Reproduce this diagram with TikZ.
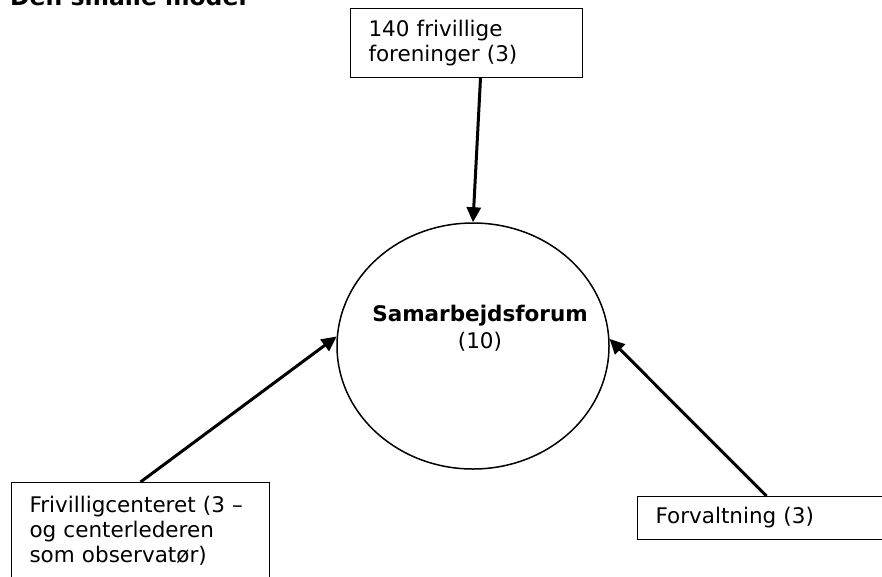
\documentclass[tikz,border=0pt]{standalone}
\usepackage{fontspec}
\setmainfont{DejaVu Sans}
\usetikzlibrary{arrows.meta,shapes.geometric}

\begin{document}
\begin{tikzpicture}[x=1pt,y=-1pt]
    \tikzset{box/.style = {shape=rectangle, draw, line width=1pt, align=left, font=\fontsize{21.5}{25}\selectfont, inner xsep=18pt}}
    \tikzset{forum/.style = {shape=ellipse, draw, line width=1.5pt, minimum width=272pt, minimum height=246pt}}
    \tikzset{edge/.style = {draw, line width=3pt, -{Triangle[length=15pt,width=14pt]}}}

    \useasboundingbox (0,0) rectangle (882,576);

    % title (cut off at the top)
    \node[anchor=base west, inner sep=0pt, font=\fontsize{23.5}{28}\selectfont\bfseries] (title) at (10,5) {Den smalle model};

    % vertices
    \node[box, anchor=north west, minimum width=232pt, minimum height=69pt, text width=196pt] (foreninger) at (350,8) {140 frivillige\\foreninger (3)};
    \node[forum] (samarbejde) at (473,346) {};
    \node[align=center, font=\fontsize{21.5}{27}\selectfont] (forumtekst) at ([shift={(7,-18)}]samarbejde.center) {\textbf{Samarbejdsforum}\\(10)};
    \node[box, anchor=north west, minimum width=258pt, minimum height=110pt, text width=222pt, inner ysep=14pt, text depth=70pt] (frivillig) at (11,482) {Frivilligcenteret (3 --\\og centerlederen\\som observatør)};
    \node[box, anchor=north west, minimum width=250pt, minimum height=43pt, text width=214pt] (forvaltning) at (637,496) {Forvaltning (3)};

    % edges
    \draw [edge] ([xshift=14pt]foreninger.south) -- (samarbejde.north);
    \draw [edge] (frivillig.north) -- (samarbejde.176);
    \draw [edge] ([xshift=4pt]forvaltning.north) -- (samarbejde.3);
\end{tikzpicture}
\end{document}
